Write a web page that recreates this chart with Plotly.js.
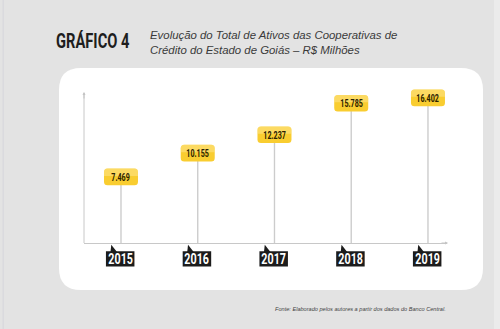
<!DOCTYPE html>
<html>
<head>
<meta charset="utf-8">
<script src="https://cdn.plot.ly/plotly-3.0.1.min.js"></script>
<style>html,body{margin:0;padding:0;background:#e3e3e3;}#chart{width:500px;height:329px;}</style>
</head>
<body>
<div id="chart"></div>
<script>
// ---- data ----
const years = [2015, 2016, 2017, 2018, 2019];
const values = [7469, 10155, 12237, 15785, 16402];
const chartTitle = 'GRÁFICO 4';
const subtitleLines = ['Evolução do Total de Ativos das Cooperativas de', 'Crédito do Estado de Goiás – R$ Milhões'];
const sourceNote = 'Fonte: Elaborado pelos autores a partir dos dados do Banco Central.';

// ---- helpers ----
const W = 500, H = 329;
const M = {l: 84, r: 53, t: 78, b: 86};
const PW = W - M.l - M.r, PH = H - M.t - M.b;
const px2x = p => (p - M.l) / PW;
const py2y = p => (H - M.b - p) / PH;
const fmt = v => String(v).replace(/\B(?=(\d{3})+(?!\d))/g, '.');
const COND = 'Roboto, "DejaVu Sans", sans-serif';
// horizontal squeeze per font size (emulates a condensed display face)
const SQUEEZE = {21: 0.70, 10.5: 0.68, 14.5: 0.74};

function roundRectPaper(x0, y0, x1, y1, r) {
  const P = (a, b) => px2x(a).toFixed(5) + ',' + py2y(b).toFixed(5);
  return 'M' + P(x0 + r, y0) + ' L' + P(x1 - r, y0) + ' Q' + P(x1, y0) + ' ' + P(x1, y0 + r) +
    ' L' + P(x1, y1 - r) + ' Q' + P(x1, y1) + ' ' + P(x1 - r, y1) +
    ' L' + P(x0 + r, y1) + ' Q' + P(x0, y1) + ' ' + P(x0, y1 - r) +
    ' L' + P(x0, y0 + r) + ' Q' + P(x0, y0) + ' ' + P(x0 + r, y0) + ' Z';
}
// rounded rect in pixel coords (y up), from bottom c to top d, horizontally offset by ox
function roundRectPix(w, c, d, r, roundBottom, ox) {
  ox = ox || 0;
  const a = -w / 2 + ox, b = w / 2 + ox;
  const rb = roundBottom ? r : 0;
  return `M${a + rb},${c} L${b - rb},${c} Q${b},${c} ${b},${c + rb} L${b},${d - r} Q${b},${d} ${b - r},${d} ` +
    `L${a + r},${d} Q${a},${d} ${a},${d - r} L${a},${c + rb} Q${a},${c} ${a + rb},${c} Z`;
}

// ---- traces ----
const stems = {
  type: 'bar', x: years, y: values, width: 0.018,
  marker: {color: '#cccccc', line: {width: 0}},
  hoverinfo: 'skip', showlegend: false
};

// ---- shapes ----
const shapes = [
  {type: 'path', xref: 'paper', yref: 'paper', layer: 'below',
   path: roundRectPaper(59, 68, 483, 290, 22), fillcolor: '#ffffff', line: {width: 0}},
  {type: 'rect', xref: 'paper', yref: 'paper', layer: 'below',
   x0: px2x(494), x1: px2x(501), y0: py2y(-1), y1: py2y(330), fillcolor: '#ebebeb', line: {width: 0}},
  {type: 'rect', xref: 'paper', yref: 'paper', layer: 'below',
   x0: px2x(2.5), x1: px2x(3.8), y0: py2y(-1), y1: py2y(330), fillcolor: '#d9d9de', line: {width: 0}},
  // y-axis line (stops below the top of the enlarged plot area)
  {type: 'line', xref: 'paper', yref: 'paper', layer: 'below',
   x0: 0, x1: 0, y0: 0, y1: py2y(93), line: {color: '#c8c8c8', width: 1}}
];
years.forEach((yr, i) => {
  shapes.push({type: 'path', xref: 'x', yref: 'y', xsizemode: 'pixel', ysizemode: 'pixel',
    xanchor: yr, yanchor: values[i], path: roundRectPix(34, -8.3, 8.3, 3.5, true),
    fillcolor: '#f9cd30', line: {width: 0}, layer: 'above'});
  shapes.push({type: 'path', xref: 'x', yref: 'y', xsizemode: 'pixel', ysizemode: 'pixel',
    xanchor: yr, yanchor: values[i], path: roundRectPix(34, 1, 8.3, 3.5, false),
    fillcolor: 'rgba(255,236,160,0.45)', line: {width: 0}, layer: 'above'});
  // black year tag with its little pointer (anchored on the x axis line, y in paper so it is not clipped)
  shapes.push({type: 'path', xref: 'x', yref: 'paper', xsizemode: 'pixel', ysizemode: 'pixel',
    xanchor: yr, yanchor: 0, path: roundRectPix(28.5, -23.5, -8.2, 0, false, -0.8),
    fillcolor: '#1c1c1c', line: {width: 0}, layer: 'above'});
  shapes.push({type: 'path', xref: 'x', yref: 'paper', xsizemode: 'pixel', ysizemode: 'pixel',
    xanchor: yr, yanchor: 0, path: 'M-10.5,-9 L-9.7,-1.7 L-4,-9 Z',
    fillcolor: '#1c1c1c', line: {width: 0}, layer: 'above'});
});

// ---- annotations ----
const annotations = [];
years.forEach((yr, i) => {
  annotations.push({x: yr, y: values[i], xref: 'x', yref: 'y', showarrow: false, yshift: -0.3,
    text: '<b>' + fmt(values[i]) + '</b>', font: {family: COND, size: 10.5, color: '#2b2200'},
    xanchor: 'center', yanchor: 'middle'});
  annotations.push({x: yr, y: 0, xref: 'x', yref: 'y', showarrow: false, yshift: -16, xshift: -0.8,
    text: '<b>' + yr + '</b>', font: {family: COND, size: 14.5, color: '#ffffff'},
    xanchor: 'center', yanchor: 'middle'});
});
// axis arrowheads
annotations.push({x: px2x(84), y: py2y(92), xref: 'paper', yref: 'paper', text: '', showarrow: true,
  ax: 0, ay: 8, arrowhead: 2, arrowsize: 0.6, arrowwidth: 1, arrowcolor: '#c4c4c4'});
annotations.push({x: px2x(448), y: 0, xref: 'paper', yref: 'paper', text: '', showarrow: true,
  ax: -8, ay: 0, arrowhead: 2, arrowsize: 0.6, arrowwidth: 1, arrowcolor: '#c4c4c4'});
// titles
annotations.push({x: px2x(54), y: py2y(40.5), xref: 'paper', yref: 'paper', showarrow: false,
  xanchor: 'left', yanchor: 'middle', text: '<b>' + chartTitle + '</b>',
  font: {family: COND, size: 21, color: '#1e1e1e'}});
annotations.push({x: px2x(148), y: py2y(42.5), xref: 'paper', yref: 'paper', showarrow: false,
  xanchor: 'left', yanchor: 'middle', align: 'left', text: subtitleLines.join('<br>'),
  font: {family: '"Liberation Sans", Arial, sans-serif', size: 11.4, color: '#3a3a3a', style: 'italic'}});
annotations.push({x: px2x(273), y: py2y(309), xref: 'paper', yref: 'paper', showarrow: false,
  xanchor: 'left', yanchor: 'middle', text: sourceNote,
  font: {family: '"Liberation Sans", Arial, sans-serif', size: 5.6, color: '#444444', style: 'italic'}});

const layout = {
  width: W, height: H,
  margin: {l: M.l, r: M.r, t: M.t, b: M.b, pad: 0},
  paper_bgcolor: '#e3e3e3', plot_bgcolor: 'rgba(0,0,0,0)',
  showlegend: false,
  xaxis: {type: 'linear', range: [2014.518, 2019.248], showline: true, linecolor: '#c8c8c8', linewidth: 1,
    showgrid: false, zeroline: false, showticklabels: false, ticks: '', fixedrange: true},
  yaxis: {range: [0, 18645], showline: false,
    showgrid: false, zeroline: false, showticklabels: false, ticks: '', fixedrange: true},
  shapes: shapes, annotations: annotations
};

function squeeze(gd) {
  gd.querySelectorAll('text.annotation-text').forEach(t => {
    if ((t.style.fontFamily || '').indexOf('Roboto') < 0) return;
    const size = parseFloat(t.style.fontSize);
    const s = SQUEEZE[size];
    if (!s) return;
    const bb = t.getBBox();
    const isTitle = size === 21;
    const cx = isTitle ? bb.x : bb.x + bb.width / 2;
    const prev = t.getAttribute('transform') || '';
    t.setAttribute('transform', prev + ` translate(${cx},0) scale(${s},1) translate(${-cx},0)`);
  });
}
Plotly.newPlot('chart', [stems], layout, {staticPlot: true, displayModeBar: false}).then(gd => {
  squeeze(gd);
});
</script>
</body>
</html>
